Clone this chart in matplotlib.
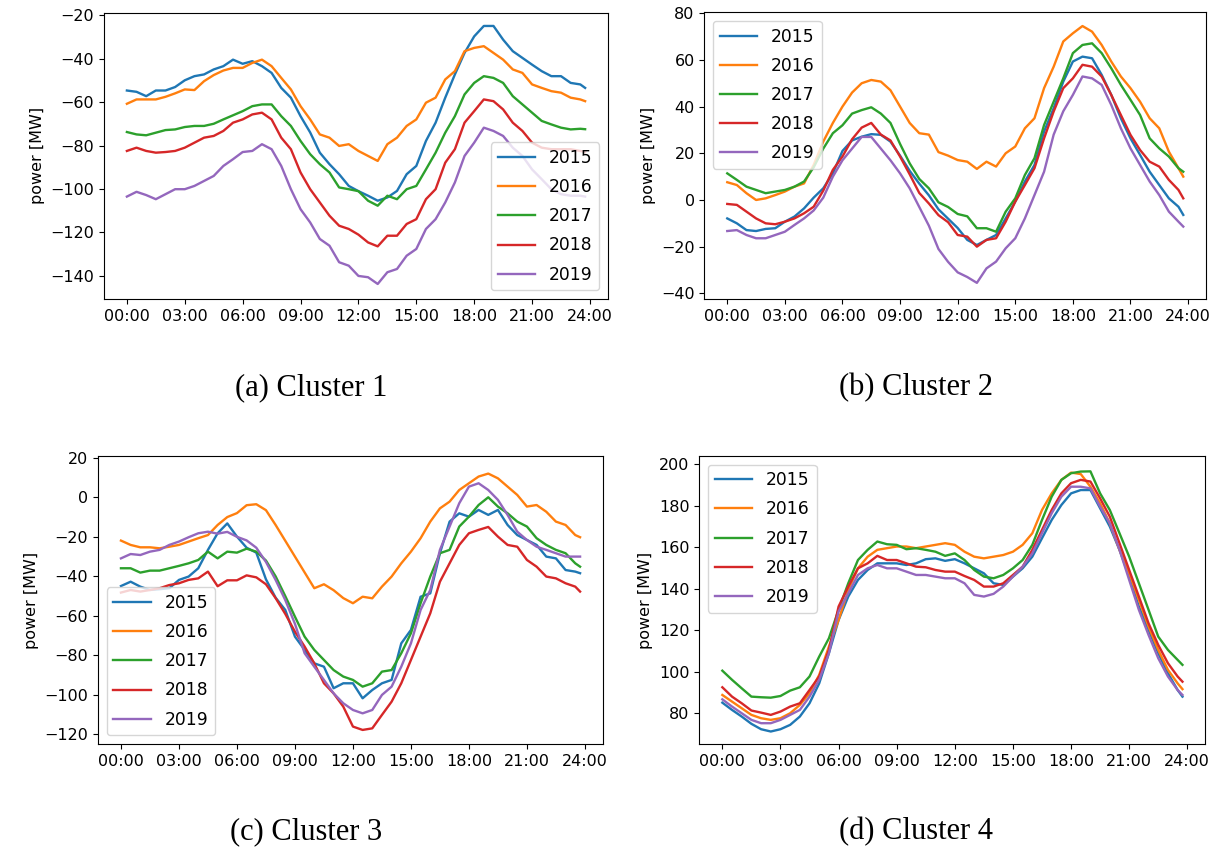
import numpy as np
import matplotlib.pyplot as plt

# half-hourly profiles (MW), last sample at 23:45
hours = np.append(np.arange(0, 24, 0.5), 23.75)
years = ['2015', '2016', '2017', '2018', '2019']
tick_labels = ['00:00', '03:00', '06:00', '09:00', '12:00', '15:00', '18:00', '21:00', '24:00']

# Cluster 1
c1_2015 = [-54.7, -55.3, -57.3, -54.7, -54.7, -53.1, -50.0, -48.1, -47.3, -45.0, -43.5, -40.5,
           -42.4, -41.2, -43.5, -46.6, -53.5, -58.0, -66.5, -74.0, -83.3, -88.6, -93.2, -98.6,
           -101.0, -103.1, -105.4, -103.9, -100.9, -93.2, -89.4, -77.9, -69.5, -58.0, -47.3, -37.4,
           -29.8, -25.0, -25.0, -31.3, -36.6, -39.7, -42.8, -45.8, -48.1, -48.1, -51.2, -51.9, -53.5]
c1_2016 = [-60.8, -58.8, -58.8, -58.8, -57.6, -56.0, -54.2, -54.5, -50.4, -47.6, -45.5, -44.3,
           -44.3, -42.0, -40.5, -43.5, -48.9, -54.2, -61.9, -68.0, -74.9, -76.4, -80.2, -79.4,
           -82.5, -84.8, -87.1, -79.4, -76.4, -71.0, -68.0, -60.3, -58.0, -49.6, -45.8, -36.6,
           -35.1, -34.3, -37.4, -40.5, -45.0, -46.6, -51.9, -53.5, -55.0, -55.7, -58.0, -58.8, -59.6]
c1_2017 = [-73.8, -74.9, -75.3, -74.1, -72.9, -72.6, -71.5, -71.0, -71.0, -70.0, -68.0, -66.1,
           -64.2, -61.9, -61.1, -61.1, -66.5, -71.0, -77.9, -84.0, -88.6, -92.4, -99.3, -100.1,
           -101.0, -105.4, -107.7, -103.1, -104.7, -100.1, -98.6, -91.0, -83.3, -74.1, -66.5, -56.5,
           -51.2, -48.1, -48.9, -51.2, -57.3, -61.1, -64.9, -68.7, -70.3, -71.8, -72.6, -72.3, -72.5]
c1_2018 = [-82.5, -81.0, -82.5, -83.3, -83.0, -82.5, -81.0, -78.7, -76.4, -75.6, -73.3, -69.5,
           -68.0, -65.7, -64.9, -68.0, -76.4, -81.7, -92.4, -100.1, -106.2, -112.3, -116.9, -118.4,
           -121.0, -124.6, -126.4, -121.5, -121.5, -116.1, -113.9, -104.7, -100.1, -87.9, -81.7, -69.5,
           -64.2, -58.8, -59.6, -63.4, -69.5, -73.3, -78.7, -81.0, -81.7, -81.7, -81.7, -82.5, -83.0]
c1_2019 = [-103.5, -101.3, -102.8, -104.7, -102.4, -100.1, -100.1, -98.6, -96.3, -94.0, -89.4, -86.3,
           -83.0, -82.5, -79.4, -81.7, -89.4, -100.1, -109.3, -115.4, -123.0, -126.1, -133.7, -135.3,
           -140.0, -140.6, -143.7, -138.3, -136.8, -130.7, -127.6, -118.4, -113.9, -106.2, -97.0, -84.8,
           -78.7, -71.8, -73.3, -75.6, -81.0, -84.8, -91.0, -95.5, -100.1, -102.4, -103.1, -103.1, -103.5]

# Cluster 2
c2_2015 = [-7.9, -10.0, -12.9, -13.3, -12.4, -12.1, -9.3, -7.1, -3.6, 1.0, 5.0, 11.4,
           21.0, 25.5, 27.1, 28.2, 27.9, 25.0, 19.0, 12.5, 7.0, 2.0, -4.0, -8.0,
           -12.0, -17.1, -19.3, -17.1, -15.0, -7.9, -0.7, 7.9, 15.0, 29.3, 39.3, 50.7,
           59.3, 61.4, 60.7, 53.6, 45.0, 35.0, 26.4, 19.3, 12.1, 6.4, 0.7, -2.9, -6.4]
c2_2016 = [7.6, 6.4, 2.9, 0.0, 0.7, 2.1, 3.6, 5.7, 7.1, 15.0, 25.0, 33.0,
           40.0, 46.0, 50.0, 51.4, 50.7, 47.0, 40.0, 33.0, 28.6, 28.0, 20.5, 19.0,
           17.1, 16.4, 13.3, 16.4, 14.3, 20.0, 22.9, 30.7, 35.0, 47.9, 57.1, 67.9,
           71.4, 74.5, 72.1, 66.4, 59.3, 52.9, 47.9, 42.1, 35.0, 30.7, 20.7, 13.6, 10.0]
c2_2017 = [11.4, 8.6, 5.7, 4.3, 2.9, 3.6, 4.3, 5.7, 7.9, 14.0, 22.0, 28.6,
           32.0, 37.0, 38.5, 39.7, 37.0, 33.0, 24.0, 15.7, 9.0, 5.0, -1.0, -3.0,
           -6.0, -7.0, -12.1, -12.1, -13.6, -5.0, 0.7, 10.7, 17.9, 32.1, 42.1, 52.1,
           62.9, 66.4, 67.1, 62.9, 56.4, 49.3, 42.9, 36.4, 26.4, 22.1, 18.6, 13.6, 12.1]
c2_2018 = [-1.7, -2.1, -5.0, -7.9, -10.0, -10.4, -9.3, -7.9, -5.7, -2.9, 4.0, 12.9,
           18.6, 26.0, 31.0, 33.0, 28.0, 25.5, 18.6, 11.0, 3.0, -1.5, -6.5, -9.5,
           -15.0, -15.7, -20.0, -17.1, -16.4, -9.3, -0.7, 6.4, 13.6, 26.4, 37.9, 47.9,
           52.1, 57.9, 57.1, 52.9, 45.0, 36.4, 27.9, 21.4, 16.4, 14.3, 8.6, 4.3, 0.7]
c2_2019 = [-13.3, -12.9, -15.0, -16.4, -16.4, -15.0, -13.6, -10.7, -7.9, -4.5, 1.0, 10.0,
           17.0, 22.0, 27.0, 27.0, 22.0, 17.0, 11.4, 5.0, -3.0, -11.0, -21.0, -26.5,
           -31.0, -33.0, -35.5, -29.3, -26.4, -20.7, -16.4, -7.9, 2.1, 12.1, 28.0, 38.0,
           45.0, 52.9, 52.1, 49.3, 40.7, 30.7, 22.1, 15.0, 7.9, 2.1, -5.0, -9.3, -11.4]

# Cluster 3
c3_2015 = [-44.9, -42.7, -45.2, -46.9, -46.5, -46.0, -41.8, -40.1, -35.9, -26.6, -18.2, -13.2,
           -19.9, -25.5, -28.0, -41.5, -50.8, -57.0, -70.5, -77.2, -84.0, -85.7, -96.6, -94.1,
           -94.1, -101.7, -97.5, -94.1, -92.4, -73.9, -67.1, -50.3, -48.6, -28.3, -12.3, -8.1,
           -9.8, -6.4, -8.9, -6.4, -14.0, -19.1, -21.6, -24.1, -30.0, -30.9, -36.8, -37.6, -38.4]
c3_2016 = [-21.9, -24.1, -25.3, -25.3, -25.8, -25.0, -24.1, -22.4, -20.7, -19.1, -14.0, -10.0,
           -8.0, -4.0, -3.5, -6.5, -14.0, -22.0, -30.0, -38.0, -46.0, -44.0, -47.0, -51.0,
           -53.6, -50.3, -51.1, -45.2, -40.1, -33.4, -27.5, -20.7, -12.3, -5.6, -2.2, 3.7,
           7.1, 10.5, 12.0, 9.6, 5.4, 1.2, -4.7, -3.9, -7.3, -12.3, -14.0, -19.1, -20.2]
c3_2017 = [-35.9, -35.9, -38.1, -37.1, -37.1, -35.9, -34.7, -33.4, -31.7, -27.5, -30.9, -27.5,
           -28.0, -26.0, -27.5, -32.0, -40.0, -50.0, -60.4, -70.5, -77.2, -82.3, -87.4, -90.7,
           -92.4, -95.8, -94.1, -88.2, -87.4, -78.9, -68.8, -53.6, -40.1, -28.3, -26.6, -14.8,
           -9.8, -3.9, 0.0, -4.7, -8.1, -12.3, -14.8, -20.7, -24.1, -26.6, -28.3, -33.4, -35.1]
c3_2018 = [-48.2, -46.9, -47.7, -46.9, -46.0, -44.4, -43.5, -41.8, -41.0, -37.6, -45.0, -42.0,
           -42.0, -39.5, -40.5, -44.0, -51.0, -59.0, -68.0, -75.5, -84.0, -94.1, -99.2, -105.9,
           -116.0, -117.7, -116.9, -110.1, -103.4, -94.1, -82.3, -70.5, -58.7, -42.7, -33.4, -24.1,
           -18.2, -16.5, -15.0, -19.9, -24.1, -25.0, -31.7, -35.1, -40.1, -41.0, -43.5, -45.2, -47.7]
c3_2019 = [-30.9, -28.7, -29.2, -27.5, -26.6, -24.1, -22.4, -20.2, -18.2, -17.4, -18.4, -17.5,
           -20.0, -21.8, -25.5, -32.7, -41.8, -52.0, -64.0, -78.9, -85.7, -92.4, -99.2, -104.2,
           -107.6, -109.3, -107.6, -100.0, -95.8, -85.7, -73.9, -57.0, -46.9, -26.6, -14.8, -3.0,
           5.4, 7.1, 3.7, -1.3, -8.9, -17.4, -21.6, -25.0, -26.6, -28.3, -30.0, -30.0, -30.0]

# Cluster 4
c4_2015 = [85.1, 81.6, 78.4, 74.9, 72.3, 71.2, 72.3, 74.4, 78.4, 84.8, 94.4, 108.9,
           124.9, 136.2, 144.2, 149.0, 152.2, 152.2, 152.2, 151.4, 152.2, 154.2, 154.6, 153.4,
           154.2, 152.2, 149.8, 147.4, 142.6, 141.8, 145.8, 149.8, 155.4, 164.3, 173.1, 180.3,
           185.9, 187.5, 187.5, 178.7, 169.9, 158.7, 145.8, 131.4, 120.1, 108.9, 99.3, 91.2, 88.0]
c4_2016 = [88.8, 85.6, 82.4, 79.2, 77.6, 76.8, 77.6, 80.0, 84.0, 89.6, 98.5, 112.1,
           124.9, 139.4, 149.8, 155.4, 158.7, 159.5, 160.3, 160.3, 159.5, 160.3, 161.1, 161.9,
           161.1, 157.8, 155.4, 154.6, 155.4, 156.2, 157.8, 161.1, 166.7, 177.9, 185.9, 192.4,
           195.9, 195.2, 189.1, 181.1, 171.5, 158.7, 147.4, 134.6, 121.7, 110.5, 100.9, 94.4, 91.6]
c4_2017 = [100.5, 96.1, 92.0, 88.0, 87.7, 87.5, 88.3, 90.9, 92.5, 97.7, 107.3, 116.1,
           129.8, 142.6, 153.8, 158.7, 162.7, 161.4, 161.1, 159.0, 159.5, 158.7, 157.8, 155.8,
           157.0, 153.8, 149.0, 145.8, 145.0, 146.6, 149.8, 153.8, 161.1, 173.1, 184.3, 192.4,
           195.6, 196.4, 196.5, 185.9, 177.9, 166.7, 155.4, 142.6, 129.8, 116.9, 110.5, 105.7, 103.3]
c4_2018 = [92.5, 88.0, 84.8, 81.3, 80.3, 79.2, 80.8, 83.2, 84.8, 91.2, 97.7, 110.5,
           131.4, 141.0, 149.8, 152.2, 155.8, 153.8, 153.8, 152.2, 150.6, 150.3, 149.0, 148.2,
           148.2, 146.1, 144.2, 141.0, 141.0, 142.6, 146.6, 150.6, 158.7, 168.3, 177.9, 185.9,
           190.8, 192.4, 191.6, 183.5, 174.7, 161.9, 149.0, 136.2, 123.3, 112.9, 104.1, 97.7, 95.2]
c4_2019 = [86.7, 83.2, 80.0, 76.8, 75.2, 75.2, 76.8, 79.2, 81.6, 88.0, 96.1, 108.9,
           129.0, 137.8, 146.6, 149.8, 151.4, 149.8, 149.8, 148.2, 146.6, 146.6, 145.8, 145.0,
           145.0, 142.6, 137.0, 136.2, 137.5, 141.0, 145.8, 150.6, 157.0, 166.7, 176.3, 184.3,
           189.1, 189.1, 188.3, 179.5, 171.5, 158.7, 144.2, 129.8, 117.7, 106.5, 97.7, 91.2, 88.8]

panels = [
    # series, axes rect, legend loc, ylim, caption, caption position
    ([c1_2015, c1_2016, c1_2017, c1_2018, c1_2019], [0.0853, 0.6491, 0.4135, 0.3360],
     'lower right', (-150.6, -18.9), '(a) Cluster 1', (0.255, 0.545)),
    ([c2_2015, c2_2016, c2_2017, c2_2018, c2_2019], [0.5779, 0.6491, 0.4115, 0.3365],
     'upper left', (-42.4, 80.4), '(b) Cluster 2', (0.7514, 0.545)),
    ([c3_2015, c3_2016, c3_2017, c3_2018, c3_2019], [0.0804, 0.1268, 0.4143, 0.3380],
     'lower left', (-124.8, 20.9), '(c) Cluster 3', (0.251, 0.0235)),
    ([c4_2015, c4_2016, c4_2017, c4_2018, c4_2019], [0.5737, 0.1268, 0.4152, 0.3380],
     'upper left', (65.2, 203.9), '(d) Cluster 4', (0.7514, 0.0235)),
]

fig = plt.figure(figsize=(12.19, 8.52), dpi=100)

for series, rect, loc, ylim, caption, cpos in panels:
    ax = fig.add_axes(rect)
    for year, vals in zip(years, series):
        ax.plot(hours, vals, label=year, linewidth=1.7)
    ax.set_xticks(range(0, 25, 3))
    ax.set_xticklabels(tick_labels)
    ax.set_xlim(-1.1875, 24.9375)
    ax.set_ylim(*ylim)
    ax.set_ylabel('power [MW]', fontsize=11.5)
    ax.tick_params(labelsize=11.5)
    ax.legend(loc=loc, fontsize=12.3, labelspacing=0.65, handlelength=2.2)
    fig.text(cpos[0], cpos[1], caption, ha='center', va='center',
             family='Liberation Serif', fontsize=22)

plt.savefig('out.png', dpi=100)
